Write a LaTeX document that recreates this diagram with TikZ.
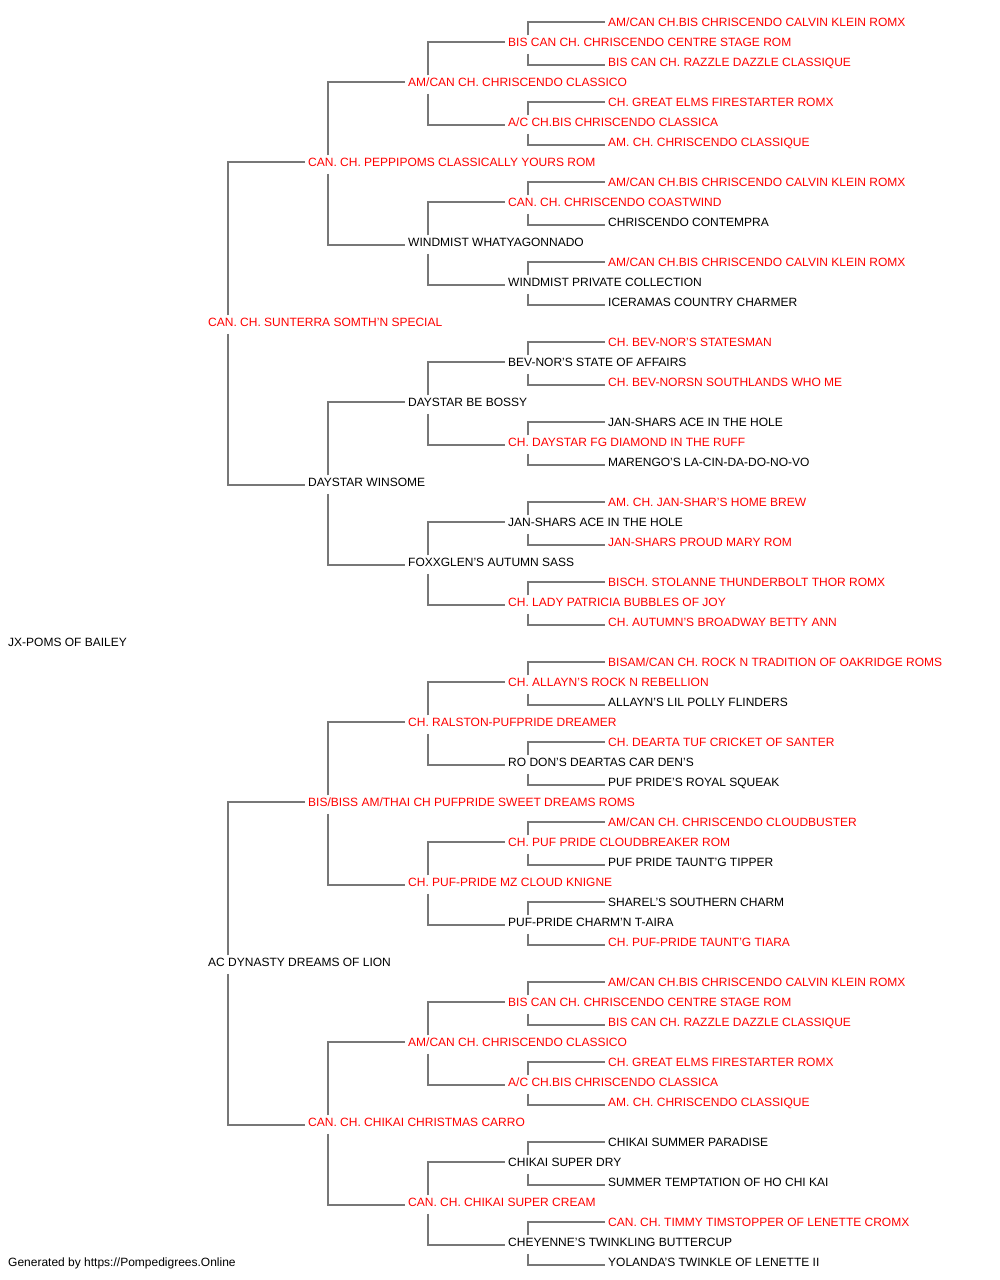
\documentclass[tikz,border=0pt]{standalone}
\usepackage{fontspec}
\setmainfont{Liberation Sans}
\definecolor{linegray}{RGB}{119,119,119}
\definecolor{namered}{RGB}{255,0,0}
\tikzset{
  nm/.style={anchor=west, inner sep=0pt, text height=7.6pt, text depth=0pt, font=\fontsize{12pt}{14pt}\selectfont, text=black},
  ch/.style={nm, text=namered},
  conn/.style={draw=linegray, line width=1.8pt}
}
\begin{document}
\begin{tikzpicture}[x=1pt,y=1pt]
\useasboundingbox[fill=white] (0,0) rectangle (1000,1280);
% generation 5
\node[ch] (r0) at (608,1257) {AM/CAN CH.BIS CHRISCENDO CALVIN KLEIN ROMX};
\node[ch] (r2) at (608,1217) {BIS CAN CH. RAZZLE DAZZLE CLASSIQUE};
\node[ch] (r4) at (608,1177) {CH. GREAT ELMS FIRESTARTER ROMX};
\node[ch] (r6) at (608,1137) {AM. CH. CHRISCENDO CLASSIQUE};
\node[ch] (r8) at (608,1097) {AM/CAN CH.BIS CHRISCENDO CALVIN KLEIN ROMX};
\node[nm] (r10) at (608,1057) {CHRISCENDO CONTEMPRA};
\node[ch] (r12) at (608,1017) {AM/CAN CH.BIS CHRISCENDO CALVIN KLEIN ROMX};
\node[nm] (r14) at (608,977) {ICERAMAS COUNTRY CHARMER};
\node[ch] (r16) at (608,937) {CH. BEV-NOR'S STATESMAN};
\node[ch] (r18) at (608,897) {CH. BEV-NORSN SOUTHLANDS WHO ME};
\node[nm] (r20) at (608,857) {JAN-SHARS ACE IN THE HOLE};
\node[nm] (r22) at (608,817) {MARENGO'S LA-CIN-DA-DO-NO-VO};
\node[ch] (r24) at (608,777) {AM. CH. JAN-SHAR'S HOME BREW};
\node[ch] (r26) at (608,737) {JAN-SHARS PROUD MARY ROM};
\node[ch] (r28) at (608,697) {BISCH. STOLANNE THUNDERBOLT THOR ROMX};
\node[ch] (r30) at (608,657) {CH. AUTUMN'S BROADWAY BETTY ANN};
\node[ch] (r32) at (608,617) {BISAM/CAN CH. ROCK N TRADITION OF OAKRIDGE ROMS};
\node[nm] (r34) at (608,577) {ALLAYN'S LIL POLLY FLINDERS};
\node[ch] (r36) at (608,537) {CH. DEARTA TUF CRICKET OF SANTER};
\node[nm] (r38) at (608,497) {PUF PRIDE'S ROYAL SQUEAK};
\node[ch] (r40) at (608,457) {AM/CAN CH. CHRISCENDO CLOUDBUSTER};
\node[nm] (r42) at (608,417) {PUF PRIDE TAUNT'G TIPPER};
\node[nm] (r44) at (608,377) {SHAREL'S SOUTHERN CHARM};
\node[ch] (r46) at (608,337) {CH. PUF-PRIDE TAUNT'G TIARA};
\node[ch] (r48) at (608,297) {AM/CAN CH.BIS CHRISCENDO CALVIN KLEIN ROMX};
\node[ch] (r50) at (608,257) {BIS CAN CH. RAZZLE DAZZLE CLASSIQUE};
\node[ch] (r52) at (608,217) {CH. GREAT ELMS FIRESTARTER ROMX};
\node[ch] (r54) at (608,177) {AM. CH. CHRISCENDO CLASSIQUE};
\node[nm] (r56) at (608,137) {CHIKAI SUMMER PARADISE};
\node[nm] (r58) at (608,97) {SUMMER TEMPTATION OF HO CHI KAI};
\node[ch] (r60) at (608,57) {CAN. CH. TIMMY TIMSTOPPER OF LENETTE CROMX};
\node[nm] (r62) at (608,17) {YOLANDA'S TWINKLE OF LENETTE II};
% generation 4
\node[ch] (r1) at (508,1237) {BIS CAN CH. CHRISCENDO CENTRE STAGE ROM};
\node[ch] (r5) at (508,1157) {A/C CH.BIS CHRISCENDO CLASSICA};
\node[ch] (r9) at (508,1077) {CAN. CH. CHRISCENDO COASTWIND};
\node[nm] (r13) at (508,997) {WINDMIST PRIVATE COLLECTION};
\node[nm] (r17) at (508,917) {BEV-NOR'S STATE OF AFFAIRS};
\node[ch] (r21) at (508,837) {CH. DAYSTAR FG DIAMOND IN THE RUFF};
\node[nm] (r25) at (508,757) {JAN-SHARS ACE IN THE HOLE};
\node[ch] (r29) at (508,677) {CH. LADY PATRICIA BUBBLES OF JOY};
\node[ch] (r33) at (508,597) {CH. ALLAYN'S ROCK N REBELLION};
\node[nm] (r37) at (508,517) {RO DON'S DEARTAS CAR DEN'S};
\node[ch] (r41) at (508,437) {CH. PUF PRIDE CLOUDBREAKER ROM};
\node[nm] (r45) at (508,357) {PUF-PRIDE CHARM'N T-AIRA};
\node[ch] (r49) at (508,277) {BIS CAN CH. CHRISCENDO CENTRE STAGE ROM};
\node[ch] (r53) at (508,197) {A/C CH.BIS CHRISCENDO CLASSICA};
\node[nm] (r57) at (508,117) {CHIKAI SUPER DRY};
\node[nm] (r61) at (508,37) {CHEYENNE'S TWINKLING BUTTERCUP};
% generation 3
\node[ch] (r3) at (408,1197) {AM/CAN CH. CHRISCENDO CLASSICO};
\node[nm] (r11) at (408,1037) {WINDMIST WHATYAGONNADO};
\node[nm] (r19) at (408,877) {DAYSTAR BE BOSSY};
\node[nm] (r27) at (408,717) {FOXXGLEN'S AUTUMN SASS};
\node[ch] (r35) at (408,557) {CH. RALSTON-PUFPRIDE DREAMER};
\node[ch] (r43) at (408,397) {CH. PUF-PRIDE MZ CLOUD KNIGNE};
\node[ch] (r51) at (408,237) {AM/CAN CH. CHRISCENDO CLASSICO};
\node[ch] (r59) at (408,77) {CAN. CH. CHIKAI SUPER CREAM};
% generation 2
\node[ch] (r7) at (308,1117) {CAN. CH. PEPPIPOMS CLASSICALLY YOURS ROM};
\node[nm] (r23) at (308,797) {DAYSTAR WINSOME};
\node[ch] (r39) at (308,477) {BIS/BISS AM/THAI CH PUFPRIDE SWEET DREAMS ROMS};
\node[ch] (r55) at (308,157) {CAN. CH. CHIKAI CHRISTMAS CARRO};
% generation 1
\node[ch] (r15) at (208,957) {CAN. CH. SUNTERRA SOMTH'N SPECIAL};
\node[nm] (r47) at (208,317) {AC DYNASTY DREAMS OF LION};
% root
\node[nm] (r31) at (8,637) {JX-POMS OF BAILEY};
% footer
\node[nm] (foot) at (8,17) {Generated by https://Pompedigrees.Online};
% connectors
\foreach \p/\s/\d in {15/7/23,47/39/55,
  7/3/11,23/19/27,39/35/43,55/51/59,
  3/1/5,11/9/13,19/17/21,27/25/29,35/33/37,43/41/45,51/49/53,59/57/61,
  1/0/2,5/4/6,9/8/10,13/12/14,17/16/18,21/20/22,25/24/26,29/28/30,
  33/32/34,37/36/38,41/40/42,45/44/46,49/48/50,53/52/54,57/56/58,61/60/62}{
  \draw[conn] ([shift={(20pt,7.5pt)}]r\p.west) |- ([shift={(-3pt,1pt)}]r\s.west);
  \draw[conn] ([shift={(20pt,-11pt)}]r\p.west) |- ([shift={(-3pt,-2pt)}]r\d.west);
}
\end{tikzpicture}
\end{document}
